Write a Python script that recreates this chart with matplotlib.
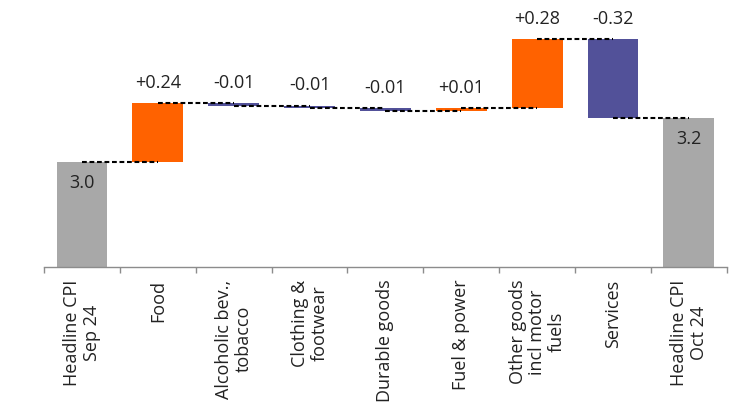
import numpy as np
import matplotlib
matplotlib.use("Agg")
import matplotlib.pyplot as plt

plt.rcParams['font.family'] = ['Open Sans', 'DejaVu Sans']

# ---- data
categories = ["Headline CPI\nSep 24", "Food", "Alcoholic bev.,\ntobacco",
              "Clothing &\nfootwear", "Durable goods", "Fuel & power",
              "Other goods\nincl motor\nfuels", "Services", "Headline CPI\nOct 24"]
start_value = 3.0
changes = [0.24, -0.01, -0.01, -0.01, 0.01, 0.28, -0.32]

orange = "#FF6200"
purple = "#525199"
grey = "#A8A8A8"

# cumulative levels
levels = np.concatenate([[start_value], start_value + np.cumsum(changes)])
end_value = levels[-1]

fig = plt.figure(figsize=(7.43, 4.03), dpi=100)
ax = fig.add_axes([0.0592, 0.337, 0.919, 0.663])

ymin = 2.573
width = 0.67
x = np.arange(len(categories))
fs = 13

# totals
ax.bar(x[0], start_value - ymin, bottom=ymin, width=width, color=grey)
ax.bar(x[-1], end_value - ymin, bottom=ymin, width=width, color=grey)
ax.annotate("%.1f" % start_value, (x[0], start_value), xytext=(0, -15), textcoords="offset points",
            ha="center", va="center", fontsize=fs, color="#222222")
ax.annotate("%.1f" % end_value, (x[-1], end_value), xytext=(0, -15.5), textcoords="offset points",
            ha="center", va="center", fontsize=fs, color="#222222")

# steps
for i, c in enumerate(changes):
    lo = levels[i]
    hi = levels[i + 1]
    ax.bar(x[i + 1], hi - lo, bottom=lo, width=width,
           color=orange if c > 0 else purple)
    ax.annotate("%+.2f" % c, (x[i + 1], max(lo, hi)), xytext=(0, 14.5), textcoords="offset points",
                ha="center", va="center", fontsize=fs, color="#222222")

# connectors
for i in range(len(levels)):
    ax.plot([x[i], x[i + 1]], [levels[i], levels[i]], color="black", lw=1.5,
            linestyle=(0, (2.3, 1.3)))

ax.set_xlim(-0.5, len(categories) - 0.5)
ax.set_ylim(ymin, ymin + 267 / 245.8)

for s in ["top", "right", "left"]:
    ax.spines[s].set_visible(False)
ax.spines["bottom"].set_color("#8c8c8c")
ax.spines["bottom"].set_linewidth(1.0)
ax.set_yticks([])

ax.set_xticks(np.arange(-0.5, len(categories), 1.0))
ax.set_xticklabels([])
ax.tick_params(axis="x", which="major", length=4, color="#8c8c8c", width=1.0)
ax.set_xticks(x, minor=True)
ax.set_xticklabels(categories, minor=True, rotation=90, ha="center", va="top",
                   multialignment="center", fontsize=fs, color="#222222",
                   linespacing=1.1)
ax.tick_params(axis="x", which="minor", length=0, pad=9)

fig.savefig("out.png", dpi=100)
